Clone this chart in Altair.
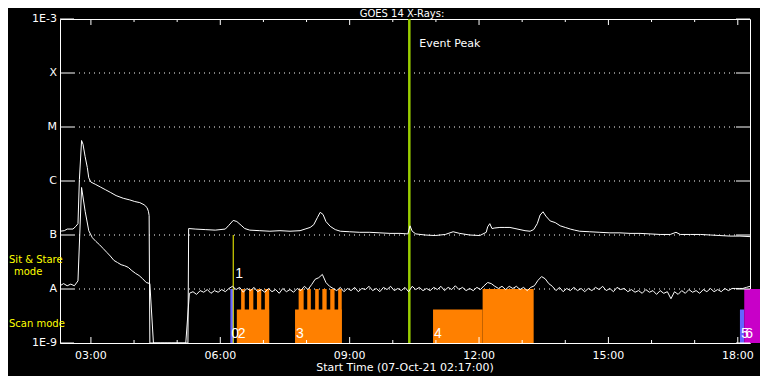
import altair as alt
import pandas as pd

# ---------------- data ----------------
title_text = "GOES 14 X-Rays:"
xlabel_text = "Start Time (07-Oct-21 02:17:00)"
peak_text = "Event Peak"
x_start = "02:17"
x_end = "18:17"
peak_time = "10:23"

# long-wavelength channel (log10 flux)
upper_times = ["02:17","02:23","02:27","02:35","02:39","02:42","02:44","02:47","02:49","02:52",
               "02:55","02:57","03:00","03:06","03:13","03:20","03:27","03:35","03:45","03:54",
               "04:01","04:08","04:14","04:18","04:20","04:21","04:22","05:15","05:16","05:25",
               "05:39","05:53","06:07","06:12","06:18","06:23","06:29","06:34","06:41","06:55",
               "07:09","07:23","07:37","07:51","07:58","08:05","08:10","08:15","08:19","08:23",
               "08:27","08:33","08:40","08:47","09:00","09:14","09:28","09:42","09:56","10:10",
               "10:21","10:24","10:27","10:32","10:45","10:59","11:13","11:24","11:33","11:47",
               "12:01","12:10","12:12","12:15","12:18","12:22","12:29","12:36","12:43","12:50",
               "12:57","13:04","13:11","13:16","13:21","13:25","13:29","13:33","13:39","13:46",
               "13:53","14:00","14:07","14:13","14:20","14:34","14:48","15:02","15:16","15:30",
               "15:44","15:58","16:12","16:26","16:34","16:40","16:54","17:08","17:22","17:35",
               "17:49","18:03","18:17"]
upper_log = [-6.93,-6.92,-6.89,-6.89,-6.84,-6.79,-5.97,-5.25,-5.32,-5.55,
             -5.75,-5.94,-6.02,-6.06,-6.11,-6.16,-6.21,-6.27,-6.32,-6.35,
             -6.38,-6.40,-6.44,-6.49,-6.56,-6.64,-9.00,-9.00,-6.88,-6.89,
             -6.90,-6.91,-6.89,-6.82,-6.73,-6.75,-6.82,-6.88,-6.91,-6.92,
             -6.93,-6.92,-6.93,-6.92,-6.89,-6.86,-6.81,-6.68,-6.58,-6.62,
             -6.75,-6.84,-6.90,-6.93,-6.94,-6.95,-6.95,-6.96,-6.97,-6.97,
             -6.98,-6.83,-6.93,-6.98,-7.00,-7.01,-6.99,-6.94,-6.97,-7.00,
             -7.01,-6.95,-6.85,-6.79,-6.88,-6.87,-6.86,-6.86,-6.86,-6.88,
             -6.90,-6.92,-6.93,-6.90,-6.79,-6.63,-6.57,-6.65,-6.74,-6.77,
             -6.83,-6.86,-6.89,-6.91,-6.93,-6.94,-6.95,-6.96,-6.96,-6.97,
             -6.97,-6.98,-6.99,-6.99,-6.95,-6.99,-6.99,-6.99,-7.00,-7.01,
             -7.02,-7.02,-7.03]

# short-wavelength channel (log10 flux), one reading every 5 minutes from 02:17
lower_start = "02:17"
lower_step_min = 5
lower_log = [-7.94,-7.90,-7.94,-7.91,-7.94,-7.85,-6.12,-6.56,-6.92,-7.05,
             -7.12,-7.18,-7.25,-7.32,-7.39,-7.47,-7.51,-7.55,-7.57,-7.60,
             -7.66,-7.71,-7.75,-7.81,-7.88,-7.90,-9.00,-9.00,-9.00,-9.00,
             -9.00,-9.00,-9.00,-9.00,-9.00,-9.00,-8.08,-8.05,-8.10,-8.03,
             -8.06,-8.01,-8.08,-8.03,-8.06,-8.01,-8.05,-7.99,-7.95,-8.01,
             -7.97,-8.06,-7.99,-8.03,-7.97,-8.05,-8.01,-8.06,-7.99,-8.05,
             -8.01,-8.08,-7.99,-8.05,-8.01,-8.06,-7.99,-8.03,-7.95,-8.01,
             -7.92,-7.82,-7.79,-7.73,-7.88,-7.95,-7.99,-8.03,-7.97,-8.05,
             -7.99,-8.03,-7.97,-8.05,-7.99,-8.01,-7.95,-8.03,-7.99,-8.05,
             -7.97,-8.01,-7.95,-8.03,-7.99,-8.03,-7.97,-8.05,-7.95,-8.01,
             -7.97,-8.03,-7.99,-8.03,-7.97,-8.01,-7.95,-8.03,-7.97,-8.01,
             -7.94,-8.01,-7.97,-8.03,-7.99,-8.03,-7.97,-8.01,-7.94,-7.88,
             -7.90,-7.95,-7.99,-7.95,-8.01,-7.95,-7.99,-7.95,-8.01,-7.97,
             -8.03,-7.97,-7.94,-7.84,-7.77,-7.81,-7.90,-7.95,-8.03,-7.97,
             -8.05,-7.99,-8.03,-7.97,-8.03,-7.99,-8.05,-7.99,-8.03,-7.97,
             -8.01,-7.95,-8.03,-7.99,-8.05,-7.97,-8.01,-7.99,-8.05,-8.01,
             -8.06,-8.03,-8.08,-8.01,-8.06,-8.03,-8.10,-8.03,-8.08,-8.05,
             -8.18,-8.05,-8.10,-8.03,-8.08,-8.01,-8.06,-8.03,-8.08,-8.01,
             -8.05,-7.99,-8.05,-8.01,-8.05,-7.99,-8.03,-7.99,-7.99,-7.99,
             -7.99,-7.97,-7.95]

# observing-mode blocks
seg_start = ["06:14","06:23","06:29","06:40","06:51","07:02","07:44","07:49","08:01",
             "08:12","08:22","08:33","08:44","10:56","12:05","18:03","18:09"]
seg_end = ["06:18","07:08","06:34","06:46","06:57","07:08","08:49","07:56","08:06",
           "08:17","08:28","08:39","08:49","12:05","13:16","18:09","18:42"]
seg_top = [-8.0,-8.38,-8.0,-8.0,-8.0,-8.0,-8.38,-8.0,-8.0,
           -8.0,-8.0,-8.0,-8.0,-8.38,-8.0,-8.38,-8.0]
seg_kind = ["blue","orange","orange","orange","orange","orange","orange","orange","orange",
            "orange","orange","orange","orange","orange","orange","blue","magenta"]

mode_labels = ["0", "2", "3", "4", "5", "6"]
mode_label_times = ["06:14", "06:23", "07:44", "10:56", "18:03", "18:09"]
stare_time = "06:18"
stare_top = -7.0
stare_label = "1"

decades = [-3, -4, -5, -6, -7, -8, -9]
decade_names = ["1E-3", "X", "M", "C", "B", "A", "1E-9"]
grid_decades = [-4, -5, -6, -7, -8]
tick_hours = list(range(3, 19))
major_hours = [3, 6, 9, 12, 15, 18]
major_labels = ["03:00", "06:00", "09:00", "12:00", "15:00", "18:00"]

# ---------------- helpers ----------------
def hrs(s):
    h, m = s.split(":")
    return int(h) + int(m) / 60.0

FONT = "DejaVu Sans"
xscale = alt.Scale(domain=[hrs(x_start), hrs(x_end)], nice=False, zero=False)
yscale = alt.Scale(type="log", domain=[1e-9, 1e-3], nice=False)

def X(f):
    return alt.X(f, type="quantitative", scale=xscale, axis=None)

def Y(f):
    return alt.Y(f, type="quantitative", scale=yscale, axis=None)

upper_df = pd.DataFrame({"h": [hrs(t) for t in upper_times],
                         "flux": [10 ** v for v in upper_log], "series": "long"})
lower_df = pd.DataFrame({"h": [hrs(lower_start) + k * lower_step_min / 60.0 for k in range(len(lower_log))],
                         "flux": [10 ** v for v in lower_log], "series": "short"})
lines_df = pd.concat([upper_df, lower_df], ignore_index=True)

seg_df = pd.DataFrame({"s": [hrs(t) for t in seg_start], "e": [hrs(t) for t in seg_end],
                       "top": [10 ** v for v in seg_top], "bot": 1e-9, "kind": seg_kind})
lab_df = pd.DataFrame({"h": [hrs(t) for t in mode_label_times], "t": mode_labels})
stare_df = pd.DataFrame({"h": [hrs(stare_time)], "top": [10 ** stare_top], "bot": [1e-9], "t": [stare_label]})
peak_df = pd.DataFrame({"h": [hrs(peak_time)], "t": [peak_text]})
dec_df = pd.DataFrame({"flux": [10.0 ** d for d in decades], "t": decade_names})
grid_df = pd.DataFrame({"flux": [10.0 ** d for d in grid_decades]})
major_df = pd.DataFrame({"h": [float(h) for h in major_hours], "t": major_labels})
minor_df = pd.DataFrame({"h": [float(h) for h in tick_hours if h not in major_hours]})

W, H = 690, 324

grid = alt.Chart(grid_df).mark_rule(color="white", strokeDash=[1, 4], strokeWidth=1).encode(
    y=Y("flux"), x=alt.value(14), x2=alt.value(W - 14))
ytick_l = alt.Chart(dec_df).mark_rule(color="white").encode(y=Y("flux"), x=alt.value(0), x2=alt.value(14))
ytick_r = alt.Chart(dec_df).mark_rule(color="white").encode(y=Y("flux"), x=alt.value(W - 14), x2=alt.value(W))
maj_b = alt.Chart(major_df).mark_rule(color="white").encode(x=X("h"), y=alt.value(H - 6), y2=alt.value(H))
maj_t = alt.Chart(major_df).mark_rule(color="white").encode(x=X("h"), y=alt.value(0), y2=alt.value(6))
min_b = alt.Chart(minor_df).mark_rule(color="white").encode(x=X("h"), y=alt.value(H - 3), y2=alt.value(H))
min_t = alt.Chart(minor_df).mark_rule(color="white").encode(x=X("h"), y=alt.value(0), y2=alt.value(3))

bars = alt.Chart(seg_df).mark_rect(clip=False).encode(
    x=X("s"), x2="e", y=Y("top"), y2="bot",
    color=alt.Color("kind:N", scale=alt.Scale(domain=["orange", "blue", "magenta"],
                                              range=["#ff8000", "#6464ff", "#c800c8"]), legend=None))
peak = alt.Chart(peak_df).mark_rule(color="#9acd00", strokeWidth=2.5).encode(
    x=X("h"), y=alt.value(0), y2=alt.value(H))
stare = alt.Chart(stare_df).mark_rule(color="#ffff00", strokeWidth=1).encode(x=X("h"), y=Y("top"), y2="bot")
lines = alt.Chart(lines_df).mark_line(color="white", strokeWidth=1, clip=True).encode(
    x=X("h"), y=Y("flux"), detail="series:N")

txt = dict(font=FONT, color="white")
mode_txt = alt.Chart(lab_df).mark_text(align="left", baseline="alphabetic", dx=1, fontSize=14,
                                       font="Liberation Sans", color="white").encode(
    x=X("h"), y=alt.value(319), text="t:N")
stare_txt = alt.Chart(stare_df).mark_text(align="left", baseline="alphabetic", dx=2, fontSize=14,
                                          font="Liberation Sans", color="white").encode(
    x=X("h"), y=alt.value(259), text="t:N")
peak_txt = alt.Chart(peak_df).mark_text(align="left", baseline="alphabetic", dx=10, fontSize=11, **txt).encode(
    x=X("h"), y=alt.value(28), text="t:N")
ylab = alt.Chart(dec_df).mark_text(align="right", baseline="middle", dx=-3, fontSize=11, **txt).encode(
    y=Y("flux"), x=alt.value(0), text="t:N")
xlab = alt.Chart(major_df).mark_text(align="center", baseline="alphabetic", fontSize=11, **txt).encode(
    x=X("h"), y=alt.value(340), text="t:N")

def static_text(s, x, y, align="center", color="white", size=11):
    return alt.Chart(pd.DataFrame({"t": [s]})).mark_text(
        align=align, baseline="alphabetic", fontSize=size, font=FONT, color=color).encode(
        x=alt.value(x), y=alt.value(y), text="t:N")

title = static_text(title_text, 342, -2.5, size=10)
xtitle = static_text(xlabel_text, 345, 352)
sit1 = static_text("Sit & Stare", -51, 244, align="left", color="#ffff00", size=10)
sit2 = static_text("mode", -46, 256, align="left", color="#ffff00", size=10)
scan = static_text("Scan mode", -51, 308, align="left", color="#ffff00", size=10)

chart = alt.layer(
    grid, bars, stare, peak, lines, ytick_l, ytick_r, maj_b, maj_t, min_b, min_t,
    mode_txt, stare_txt, peak_txt, ylab, xlab, title, xtitle, sit1, sit2, scan
).properties(
    width=W, height=H,
    autosize=alt.AutoSizeParams(type="none"),
    padding={"left": 52, "top": 11, "right": 10, "bottom": 33},
    background="black",
).configure_view(stroke="white", strokeWidth=1)

chart.save("out.html", embed_options={"renderer": "svg", "actions": False})
